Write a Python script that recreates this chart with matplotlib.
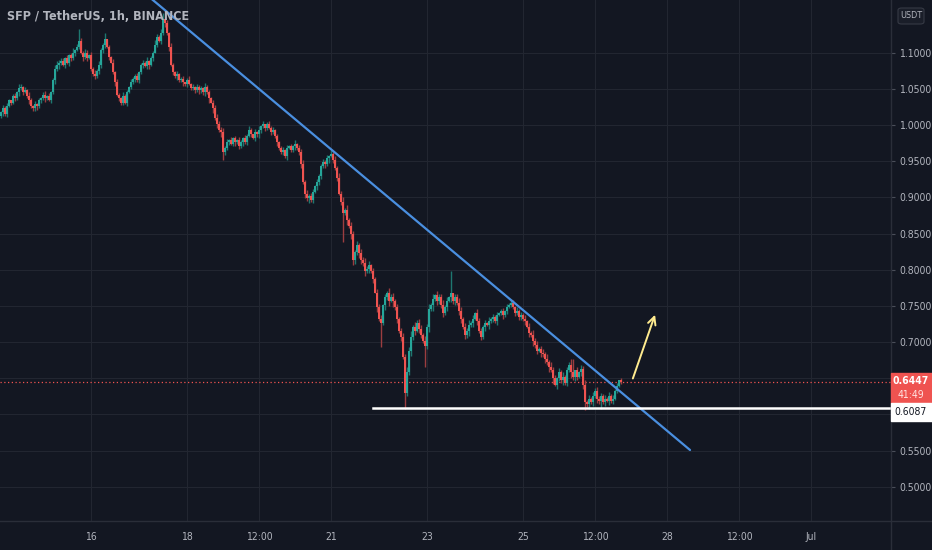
import matplotlib
matplotlib.use("Agg")
import matplotlib.pyplot as plt
from matplotlib.patches import Rectangle, FancyBboxPatch
from matplotlib.lines import Line2D
from matplotlib import transforms

title = "SFP / TetherUS, 1h, BINANCE"

# hourly closes, oldest first (last bar = Jun 27 01:00)
closes = [
    1.018, 1.023, 1.015, 1.026, 1.034, 1.031, 1.040, 1.037, 1.045, 1.051,
    1.053, 1.045, 1.048, 1.040, 1.034, 1.026, 1.023, 1.029, 1.026, 1.034,
    1.037, 1.042, 1.037, 1.040, 1.034, 1.045, 1.062, 1.078, 1.083, 1.086,
    1.089, 1.083, 1.092, 1.086, 1.097, 1.092, 1.100, 1.103, 1.108, 1.116,
    1.100, 1.094, 1.100, 1.092, 1.097, 1.078, 1.070, 1.067, 1.075, 1.083,
    1.103, 1.111, 1.119, 1.108, 1.094, 1.086, 1.073, 1.059, 1.042, 1.037,
    1.031, 1.040, 1.031, 1.045, 1.053, 1.059, 1.064, 1.067, 1.062, 1.073,
    1.083, 1.086, 1.081, 1.089, 1.083, 1.092, 1.100, 1.111, 1.122, 1.116,
    1.127, 1.147, 1.141, 1.127,
    1.108, 1.083, 1.073, 1.067, 1.070, 1.062, 1.064, 1.059, 1.056, 1.062,
    1.056, 1.051, 1.053, 1.048, 1.053, 1.048, 1.051, 1.045, 1.053, 1.045,
    1.037, 1.031, 1.023, 1.009, 1.001, 0.993, 0.990, 0.963, 0.968, 0.976,
    0.979, 0.974, 0.982, 0.976, 0.979, 0.971, 0.976, 0.982, 0.976, 0.985,
    0.993, 0.987, 0.982, 0.990, 0.987, 0.993, 0.998, 1.001, 0.996, 1.001,
    0.996, 0.990, 0.993, 0.985, 0.976, 0.968, 0.963, 0.965, 0.957, 0.968,
    0.971, 0.965, 0.971, 0.974, 0.968, 0.963, 0.946, 0.921, 0.905, 0.899,
    0.902, 0.897, 0.908, 0.916, 0.921, 0.930, 0.943, 0.949, 0.946, 0.954,
    0.957, 0.960, 0.952, 0.941, 0.927,
    0.905, 0.894, 0.878, 0.883, 0.869, 0.861, 0.850, 0.814, 0.825, 0.834,
    0.823, 0.814, 0.809, 0.798, 0.801, 0.806, 0.798, 0.787, 0.768, 0.748,
    0.732, 0.726, 0.751, 0.762, 0.768, 0.757, 0.762, 0.757, 0.748, 0.732,
    0.716, 0.707, 0.680, 0.630, 0.658, 0.688, 0.707, 0.721, 0.716, 0.726,
    0.718, 0.710, 0.702, 0.694, 0.721, 0.746, 0.751, 0.759, 0.765, 0.757,
    0.762, 0.751, 0.740, 0.748, 0.757, 0.762, 0.768, 0.757, 0.762, 0.754,
    0.743,
    0.732, 0.721, 0.710, 0.716, 0.724, 0.726, 0.732, 0.740, 0.729, 0.716,
    0.707, 0.721, 0.726, 0.724, 0.729, 0.732, 0.735, 0.729, 0.737, 0.740,
    0.743, 0.737, 0.743, 0.748, 0.751, 0.754, 0.748, 0.740, 0.743, 0.735,
    0.737, 0.732, 0.729, 0.721, 0.713, 0.710, 0.702, 0.696, 0.688, 0.691,
    0.685, 0.683, 0.677, 0.672, 0.666, 0.661, 0.650, 0.641, 0.650, 0.658,
    0.647, 0.652, 0.644, 0.661, 0.669, 0.658, 0.652, 0.661, 0.652, 0.658,
    0.663, 0.641, 0.617, 0.614, 0.622, 0.617, 0.625, 0.633, 0.622, 0.619,
    0.625, 0.617, 0.622, 0.619, 0.625, 0.619, 0.622, 0.633, 0.639, 0.647,
    0.6447,
]
first_open = 1.012
# wick lengths above / below the body, one digit per bar, in 0.001 steps
upper_wicks = (
    "2435213425" "3142532413" "2351423564" "3425136240" "4253142635"
    "3240325142" "2534142352" "3425132643" "5304253142" "2413524132"
    "3152423564" "4635241325" "3142531425" "2413524132" "3524132514"
    "4635243152" "3425102536" "4726354263" "5374625364" "6253746352"
    "4637582746" "5364738264" "4735260547" "5364735264" "4352634251"
    "3425304263" "4352637452" "3546374526" "4635384052" "6473526354"
    "4352635241" "3"
)
lower_wicks = (
    "3524132435" "2413524352" "4253142635" "3142532413" "2534132425"
    "4352413524" "3425132534" "2413524132" "4253614253" "3524132435"
    "4352617253" "6052413524" "3524132435" "4253142352" "3425132534"
    "5364735264" "4253614352" "5637485647" "6473526073" "5364728364"
    "6405374625" "5364738264" "4635274635" "5364735264" "4352634251"
    "3524132435" "4352637452" "5364738264" "4635384652" "5604735264"
    "4352635241" "2"
)
# long wicks (bar index -> price)
high_spikes = {39: 1.132, 52: 1.127, 81: 1.155, 165: 0.966, 225: 0.798,
               255: 0.760, 286: 0.676}
low_spikes = {111: 0.952, 171: 0.839, 176: 0.807, 190: 0.693, 202: 0.608,
              212: 0.666, 292: 0.606, 300: 0.607}

last_price = 0.6447
support = 0.6087
countdown = "41:49"
last_bar = 27 + 1 / 24          # x in days of June

price_ticks = [0.50, 0.55, 0.60, 0.65, 0.70, 0.75, 0.80, 0.85, 0.90, 0.95, 1.00, 1.05, 1.10]
hidden_ticks = [0.60, 0.65]      # covered by the price labels
date_ticks = [16, 18, 19.5, 21, 23, 25, 26.5, 28, 29.5, 31]
date_labels = ["16", "18", "12:00", "21", "23", "25", "12:00", "28", "12:00", "Jul"]

# drawings
trend_x, trend_y = [17.04, 28.48], [1.1865, 0.5509]
support_from = 21.875
arrow_from, arrow_to = (27.27, 0.6461), (27.77, 0.7414)

BG = "#131722"
GRID = "#222631"
TXT = "#b2b5be"
UP, DOWN = "#26a69a", "#ef5350"
UP_WICK, DOWN_WICK = "#1e7770", "#9c3d40"
font = dict(family="DejaVu Sans", stretch="condensed")

W, H = 932, 550
fig = plt.figure(figsize=(W / 100, H / 100), dpi=100, facecolor=BG)
ax = fig.add_axes([0, 29 / H, 891 / W, 521 / H], facecolor=BG)
ax.set_xlim(14.104, 32.667)
ax.set_ylim(0.4528, 1.1727)

n = len(closes)
times = [last_bar - (n - 1 - i) / 24 for i in range(n)]
opens = [first_open] + closes[:-1]
for i in range(n):
    o, c, t = opens[i], closes[i], times[i]
    up = c >= o
    uw = int(upper_wicks[i]) / 1000 if i < len(upper_wicks) else 0
    lw_ = int(lower_wicks[i]) / 1000 if i < len(lower_wicks) else 0
    hi = high_spikes.get(i, max(o, c) + uw)
    lo = low_spikes.get(i, min(o, c) - lw_)
    ax.vlines(t, lo, hi, color=UP_WICK if up else DOWN_WICK, lw=1.0, zorder=3)
    ax.bar(t, max(abs(c - o), 0.0008), bottom=min(o, c), width=0.9 / 24,
           color=UP if up else DOWN, linewidth=0, zorder=3)

ax.plot(trend_x, trend_y, color="#4a8fe0", lw=1.6, zorder=4, solid_capstyle="round")
ax.plot([support_from, 32.8], [support, support], color="white", lw=1.8, zorder=4)
ax.axhline(last_price, color=DOWN, lw=0.9, ls=(0, (1, 2)), zorder=2)
ax.annotate("", xy=arrow_to, xytext=arrow_from, zorder=5,
            arrowprops=dict(arrowstyle="->", color="#ffeb8f", lw=1.4, mutation_scale=14))

ax.set_yticks(price_ticks)
ax.set_yticklabels(["" if p in hidden_ticks else f"{p:.4f}" for p in price_ticks], **font)
ax.yaxis.tick_right()
ax.set_xticks(date_ticks)
ax.set_xticklabels(date_labels, **font)
ax.tick_params(axis="y", length=3, color="#4a4e59", labelcolor=TXT, labelsize=7.5, pad=3)
ax.tick_params(axis="x", length=0, labelcolor=TXT, labelsize=7.5, pad=8)
ax.grid(True, color=GRID, lw=0.8)
ax.set_axisbelow(True)
for s in ax.spines.values():
    s.set_visible(False)

# pane separators
fig.add_artist(Line2D([891 / W, 891 / W], [0, 1], color="#2a2e39", lw=1))
fig.add_artist(Line2D([0, 1], [29 / H, 29 / H], color="#2a2e39", lw=1))

fig.text(7 / W, 1 - 16 / H, title, color=TXT, fontsize=9, weight="semibold",
         va="center", **font)

# price scale labels
tr = transforms.blended_transform_factory(fig.transFigure, ax.transData)
px = 1 / 723.7
fig.add_artist(Rectangle((891 / W, last_price - 21 * px), 41 / W, 30 * px,
                         transform=tr, color=DOWN, zorder=5))
fig.text(911 / W, last_price + 1 * px, f"{last_price:.4f}", transform=tr, color="white",
         fontsize=7.5, weight="bold", ha="center", va="center", zorder=6, **font)
fig.text(911 / W, last_price - 13 * px, countdown, transform=tr, color="#ffe3e2",
         fontsize=7.5, ha="center", va="center", zorder=6, **font)
fig.add_artist(Rectangle((891 / W, support - 13 * px), 41 / W, 18 * px,
                         transform=tr, color="white", zorder=5))
fig.text(911 / W, support - 4 * px, f"{support:.4f}", transform=tr, color="#131722",
         fontsize=7.5, ha="center", va="center", zorder=6, **font)

fig.add_artist(FancyBboxPatch((898 / W, 1 - 24 / H), 26 / W, 16 / H,
                              boxstyle="round,pad=0,rounding_size=0.004",
                              transform=fig.transFigure, facecolor="#1a1e29",
                              edgecolor="#363a45", lw=0.8))
fig.text(911 / W, 1 - 16 / H, "USDT", color=TXT, fontsize=6.5, ha="center",
         va="center", **font)

fig.savefig("out.png", dpi=100, facecolor=BG)
